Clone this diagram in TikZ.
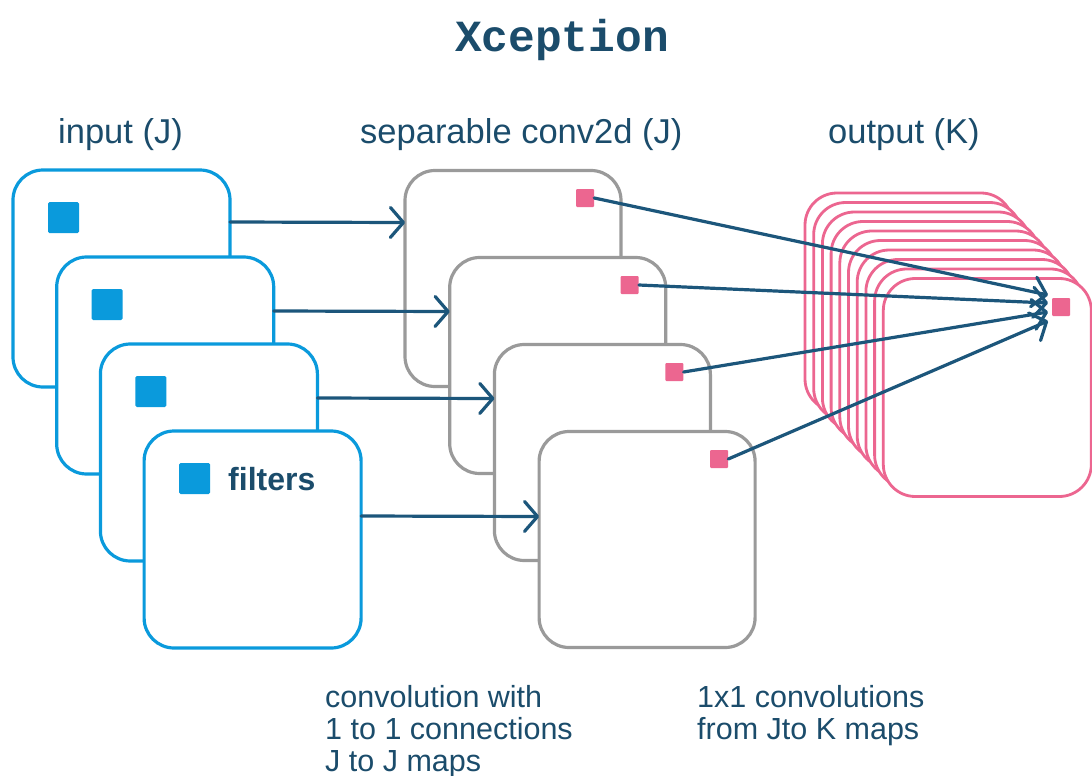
\documentclass[tikz,border=0pt]{standalone}
\usepackage{fontspec}
\setmainfont{Liberation Sans}
\newfontfamily\titlefont{Liberation Mono}
\usetikzlibrary{arrows.meta}

\definecolor{inkblue}{HTML}{1B4C6B}
\definecolor{arrowblue}{HTML}{1C567B}
\definecolor{mapblue}{HTML}{0A9ADC}
\definecolor{mapgray}{HTML}{9A9A9A}
\definecolor{mappink}{HTML}{EC6690}

\tikzset{
  inmap/.style={draw=mapblue, line width=3.2pt, fill=white, rounded corners=30pt,
    minimum width=217pt, minimum height=217pt, inner sep=0pt, outer sep=0pt},
  sepmap/.style={draw=mapgray, line width=3.2pt, fill=white, rounded corners=30pt,
    minimum width=216pt, minimum height=216pt, inner sep=0pt, outer sep=0pt},
  outmap/.style={draw=mappink, line width=2.8pt, fill=white, rounded corners=32pt,
    minimum width=208pt, minimum height=218pt, inner sep=0pt, outer sep=0pt},
  bluedot/.style={fill=mapblue, minimum size=31pt, inner sep=0pt, rounded corners=1.5pt},
  pinkdot/.style={fill=mappink, minimum size=18pt, inner sep=0pt, rounded corners=1pt},
  conn/.style={draw=arrowblue, line width=3.2pt, line cap=round,
    -{Straight Barb[round, length=13pt, width=30pt]}},
  label/.style={text=inkblue, font=\fontsize{34.5}{36}\selectfont, inner sep=0pt, anchor=base west},
  note/.style={text=inkblue, font=\fontsize{30.5}{32}\selectfont, inner sep=0pt,
    align=left, anchor=base west},
}

\begin{document}
\begin{tikzpicture}[x=1pt, y=-1pt]
\useasboundingbox (0,0) rectangle (1092,776);

% title
\node[text=inkblue, font=\titlefont\bfseries\fontsize{44.5}{46}\selectfont, inner sep=0pt, anchor=base]
  (title) at (562,52) {Xception};

% column headings
\node[label] (hin) at (58,143) {input (J)};
\node[label] (hsep) at (360,143) {separable conv2d (J)};
\node[label] (hout) at (828,143) {output (K)};

% input feature maps
\foreach \i in {1,...,4} {
  \node[inmap] (in\i) at ({121.5+43.7*(\i-1)}, {278.5+87*(\i-1)}) {};
  \node[bluedot] (f\i) at ([xshift=50.5pt, yshift=-47.5pt]in\i.north west) {};
}
\node[text=inkblue, font=\bfseries\fontsize{32}{34}\selectfont, inner sep=0pt, anchor=base west]
  (filt) at (228,490) {filters};

% separable convolution maps
\foreach \i in {1,...,4} {
  \node[sepmap] (sep\i) at ({513+44.7*(\i-1)}, {278.5+87*(\i-1)}) {};
  \node[pinkdot] (p\i) at ([xshift=-36pt, yshift=-27.5pt]sep\i.north east) {};
}

% output stack of K maps
\foreach \k in {0,...,9} {
  \node[outmap] (out\k) at ({909+8.7*\k}, {302+9.5*\k}) {};
}
\node[pinkdot] (po) at (1061,307) {};

% one-to-one depthwise connections
\draw[conn] ([yshift=-52pt]in1.north east) -- ([yshift=-52pt]sep1.north west);
\draw[conn] ([yshift=-54pt]in2.north east) -- ([yshift=-54pt]sep2.north west);
\draw[conn] ([yshift=-54pt]in3.north east) -- ([yshift=-54pt]sep3.north west);
\draw[conn] ([yshift=-85pt]in4.north east) -- ([yshift=-85pt]sep4.north west);

% pointwise 1x1 connections into the output map
\coordinate (t1) at (1048,295);
\coordinate (t2) at (1048,303);
\coordinate (t3) at (1048,312);
\coordinate (t4) at (1048,321);
\draw[conn] (p1.east) -- (t1);
\draw[conn] (p2.east) -- (t2);
\draw[conn] (p3.east) -- (t3);
\draw[conn] (p4.east) -- (t4);

% captions (anchored on the baseline of their last line)
\node[note] (n1) at (325,771) {convolution with\\1 to 1 connections\\J to J maps};
\node[note] (n2) at (697,739) {1x1 convolutions\\from Jto K maps};
\end{tikzpicture}
\end{document}
